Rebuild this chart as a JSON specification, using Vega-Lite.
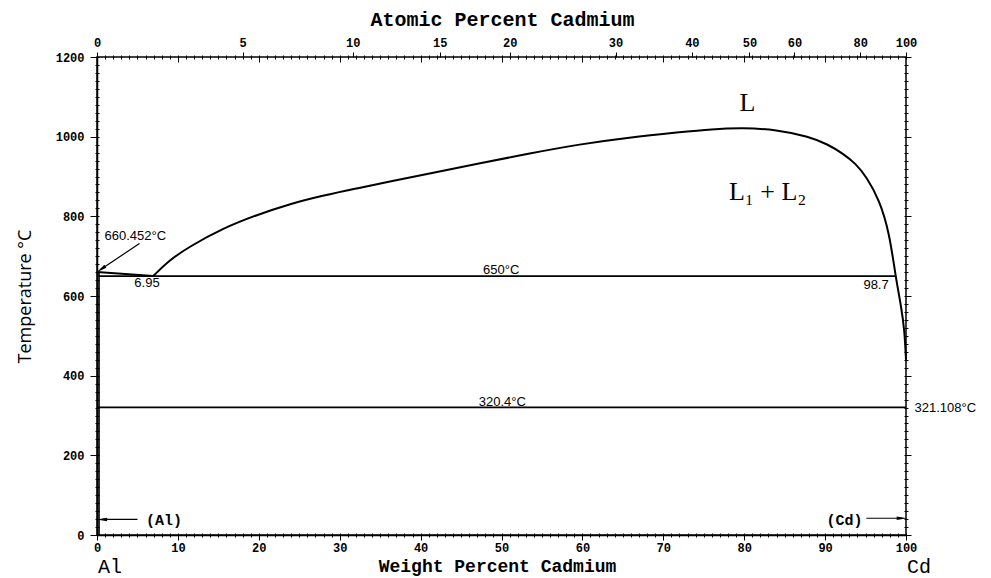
{
"$schema": "https://vega.github.io/schema/vega-lite/v6.json",
"width": 809, "height": 478,
"autosize": {"type": "none"},
"padding": {"left": 97, "top": 57, "right": 85, "bottom": 43},
"background": "white",
"config": {
  "view": {"stroke": "black", "strokeWidth": 1.5},
  "axis": {"domainColor": "black", "domainWidth": 1.5, "tickColor": "black", "tickWidth": 1, "labelColor": "black", "titleColor": "black", "grid": false, "labelFont": "Liberation Mono", "labelFontWeight": "bold", "labelFontSize": 12, "titleFont": "Liberation Mono", "titleFontWeight": "bold", "titleFontSize": 20, "labelFlush": false, "labelOverlap": false, "format": "d"}
},
"datasets": {
  "lines": [
    {"x": 0.2, "x2": 98.7, "y": 650, "y2": 650},
    {"x": 0, "x2": 100, "y": 320.4, "y2": 320.4},
    {"x": 0.25, "x2": 0.25, "y": 0, "y2": 660.452}
  ],
  "arrows": [
    {"name": "a660", "x": 5.25, "y": 732, "x2": 0.5, "y2": 667},
    {"name": "al", "x": 5.0, "y": 39, "x2": 0.6, "y2": 39},
    {"name": "cd", "x": 95.1, "y": 42, "x2": 99.5, "y2": 42}
  ],
  "curves": [
    {"curve": "liq", "ord": 1, "x": 0, "y": 660.452},
    {"curve": "liq", "ord": 2, "x": 6.95, "y": 650},
    {"curve": "gap", "ord": 1, "x": 6.95, "y": 650},
    {"curve": "gap", "ord": 2, "x": 9, "y": 691},
    {"curve": "gap", "ord": 3, "x": 11.43, "y": 724},
    {"curve": "gap", "ord": 4, "x": 15.55, "y": 770},
    {"curve": "gap", "ord": 5, "x": 19.68, "y": 803},
    {"curve": "gap", "ord": 6, "x": 23.79, "y": 831},
    {"curve": "gap", "ord": 7, "x": 27.91, "y": 852},
    {"curve": "gap", "ord": 8, "x": 32.04, "y": 870},
    {"curve": "gap", "ord": 9, "x": 36.16, "y": 887},
    {"curve": "gap", "ord": 10, "x": 41.5, "y": 909},
    {"curve": "gap", "ord": 11, "x": 47.28, "y": 933},
    {"curve": "gap", "ord": 12, "x": 53.5, "y": 958},
    {"curve": "gap", "ord": 13, "x": 59.64, "y": 981},
    {"curve": "gap", "ord": 14, "x": 65.8, "y": 998},
    {"curve": "gap", "ord": 15, "x": 71.99, "y": 1011},
    {"curve": "gap", "ord": 16, "x": 76, "y": 1019},
    {"curve": "gap", "ord": 17, "x": 79.83, "y": 1022},
    {"curve": "gap", "ord": 18, "x": 83.96, "y": 1018},
    {"curve": "gap", "ord": 19, "x": 88.07, "y": 1000},
    {"curve": "gap", "ord": 20, "x": 90.3, "y": 981},
    {"curve": "gap", "ord": 21, "x": 92.19, "y": 958},
    {"curve": "gap", "ord": 22, "x": 93.8, "y": 932},
    {"curve": "gap", "ord": 23, "x": 95.08, "y": 900},
    {"curve": "gap", "ord": 24, "x": 96.72, "y": 841},
    {"curve": "gap", "ord": 25, "x": 97.96, "y": 757},
    {"curve": "gap", "ord": 26, "x": 98.7, "y": 650},
    {"curve": "gap", "ord": 27, "x": 99.41, "y": 573},
    {"curve": "gap", "ord": 28, "x": 99.81, "y": 515},
    {"curve": "gap", "ord": 29, "x": 100, "y": 440}
  ],
  "bigtext": [
    {"x": 80.4, "y": 1064, "text": "L"},
    {"x": 82.9, "y": 842, "text": "L₁ + L₂"}
  ],
  "notes": [
    {"x": 0.93, "y": 741, "text": "660.452°C", "align": "left"},
    {"x": 6.18, "y": 622, "text": "6.95", "align": "center"},
    {"x": 49.96, "y": 655, "text": "650°C", "align": "center"},
    {"x": 50.1, "y": 325, "text": "320.4°C", "align": "center"},
    {"x": 96.3, "y": 617, "text": "98.7", "align": "center"},
    {"x": 101.05, "y": 310, "text": "321.108°C", "align": "left"}
  ],
  "phases": [
    {"x": 8.28, "y": 25, "text": "(Al)"},
    {"x": 92.4, "y": 25, "text": "(Cd)"}
  ],
  "elements": [
    {"x": 1.6, "y": -95, "text": "Al"},
    {"x": 101.6, "y": -95, "text": "Cd"}
  ]
},
"resolve": {"axis": {"x": "independent", "y": "independent"}},
"layer": [
  {
    "data": {"name": "lines"},
    "mark": {"type": "rule", "color": "black", "strokeWidth": 1.6},
    "encoding": {
      "x": {"field": "x", "type": "quantitative", "scale": {"domain": [0, 100], "nice": false, "zero": false},
        "axis": {"orient": "bottom", "values": [0,10,20,30,40,50,60,70,80,90,100], "tickSize": 5, "labelPadding": 2, "title": "Weight Percent Cadmium", "titleFontSize": 18, "titleX": 400, "titleY": 31, "titleBaseline": "middle", "titleAlign": "center"}},
      "x2": {"field": "x2"},
      "y": {"field": "y", "type": "quantitative", "scale": {"domain": [0, 1200], "nice": false, "zero": false},
        "axis": {"orient": "left", "values": [0,200,400,600,800,1000,1200], "tickSize": 7, "labelPadding": 6, "title": "Temperature °C", "titleX": -72, "titleY": 239, "titleAngle": 270, "titleBaseline": "middle", "titleAlign": "center", "titleFont": "Open Sans", "titleFontWeight": "normal", "titleFontSize": 18}},
      "y2": {"field": "y2"}
    }
  },
  {
    "data": {"name": "arrows"},
    "mark": {"type": "rule", "color": "black", "strokeWidth": 1.2},
    "encoding": {
      "x": {"field": "x", "type": "quantitative", "scale": {"domain": [0, 100], "nice": false, "zero": false}, "axis": null},
      "x2": {"field": "x2"},
      "y": {"field": "y", "type": "quantitative", "scale": {"domain": [0, 1200], "nice": false, "zero": false}, "axis": null},
      "y2": {"field": "y2"}
    }
  },
  {
    "data": {"name": "arrows"},
    "transform": [{"filter": "datum.name == 'a660'"}],
    "mark": {"type": "point", "shape": "M0,-1L0.35,1L-0.35,1Z", "filled": true, "color": "black", "opacity": 1, "size": 110, "angle": 235.7},
    "encoding": {
      "x": {"field": "x2", "type": "quantitative", "scale": {"domain": [0, 100], "nice": false, "zero": false}, "axis": null},
      "y": {"field": "y2", "type": "quantitative", "scale": {"domain": [0, 1200], "nice": false, "zero": false}, "axis": null}
    }
  },
  {
    "data": {"name": "arrows"},
    "transform": [{"filter": "datum.name == 'al'"}],
    "mark": {"type": "point", "shape": "M0,-1L0.35,1L-0.35,1Z", "filled": true, "color": "black", "opacity": 1, "size": 110, "angle": 270},
    "encoding": {
      "x": {"field": "x2", "type": "quantitative", "scale": {"domain": [0, 100], "nice": false, "zero": false}, "axis": null},
      "y": {"field": "y2", "type": "quantitative", "scale": {"domain": [0, 1200], "nice": false, "zero": false}, "axis": null}
    }
  },
  {
    "data": {"name": "arrows"},
    "transform": [{"filter": "datum.name == 'cd'"}],
    "mark": {"type": "point", "shape": "M0,-1L0.35,1L-0.35,1Z", "filled": true, "color": "black", "opacity": 1, "size": 110, "angle": 90},
    "encoding": {
      "x": {"field": "x2", "type": "quantitative", "scale": {"domain": [0, 100], "nice": false, "zero": false}, "axis": null},
      "y": {"field": "y2", "type": "quantitative", "scale": {"domain": [0, 1200], "nice": false, "zero": false}, "axis": null}
    }
  },
  {
    "data": {"name": "curves"},
    "mark": {"type": "line", "color": "black", "strokeWidth": 2, "interpolate": "basis"},
    "encoding": {
      "x": {"field": "x", "type": "quantitative", "scale": {"domain": [0, 100], "nice": false, "zero": false}, "axis": null},
      "y": {"field": "y", "type": "quantitative", "scale": {"domain": [0, 1200], "nice": false, "zero": false}, "axis": null},
      "detail": {"field": "curve"},
      "order": {"field": "ord", "type": "quantitative"}
    }
  },
  {
    "data": {"name": "bigtext"},
    "mark": {"type": "text", "font": "Liberation Serif", "fontSize": 26, "align": "center", "baseline": "alphabetic", "color": "black"},
    "encoding": {
      "x": {"field": "x", "type": "quantitative", "scale": {"domain": [0, 100], "nice": false, "zero": false}, "axis": null},
      "y": {"field": "y", "type": "quantitative", "scale": {"domain": [0, 1200], "nice": false, "zero": false}, "axis": null},
      "text": {"field": "text"}
    }
  },
  {
    "data": {"name": "notes"},
    "transform": [{"filter": "datum.align == 'left'"}],
    "mark": {"type": "text", "font": "Liberation Sans", "fontSize": 13, "align": "left", "baseline": "alphabetic", "color": "black"},
    "encoding": {
      "x": {"field": "x", "type": "quantitative", "scale": {"domain": [0, 100], "nice": false, "zero": false}, "axis": null},
      "y": {"field": "y", "type": "quantitative", "scale": {"domain": [0, 1200], "nice": false, "zero": false}, "axis": null},
      "text": {"field": "text"}
    }
  },
  {
    "data": {"name": "notes"},
    "transform": [{"filter": "datum.align == 'center'"}],
    "mark": {"type": "text", "font": "Liberation Sans", "fontSize": 13, "align": "center", "baseline": "alphabetic", "color": "black"},
    "encoding": {
      "x": {"field": "x", "type": "quantitative", "scale": {"domain": [0, 100], "nice": false, "zero": false}, "axis": null},
      "y": {"field": "y", "type": "quantitative", "scale": {"domain": [0, 1200], "nice": false, "zero": false}, "axis": null},
      "text": {"field": "text"}
    }
  },
  {
    "data": {"name": "phases"},
    "mark": {"type": "text", "font": "Liberation Mono", "fontWeight": "bold", "fontSize": 15, "align": "center", "baseline": "alphabetic", "color": "black"},
    "encoding": {
      "x": {"field": "x", "type": "quantitative", "scale": {"domain": [0, 100], "nice": false, "zero": false}, "axis": null},
      "y": {"field": "y", "type": "quantitative", "scale": {"domain": [0, 1200], "nice": false, "zero": false}, "axis": null},
      "text": {"field": "text"}
    }
  },
  {
    "data": {"name": "elements"},
    "mark": {"type": "text", "font": "Liberation Mono", "fontSize": 20, "align": "center", "baseline": "alphabetic", "color": "black"},
    "encoding": {
      "x": {"field": "x", "type": "quantitative", "scale": {"domain": [0, 100], "nice": false, "zero": false}, "axis": null},
      "y": {"field": "y", "type": "quantitative", "scale": {"domain": [0, 1200], "nice": false, "zero": false}, "axis": null},
      "text": {"field": "text"}
    }
  },
  {
    "data": {"name": "lines"},
    "mark": {"type": "point", "opacity": 0},
    "encoding": {
      "x": {"field": "x", "type": "quantitative", "scale": {"domain": [0, 100], "nice": false, "zero": false},
        "axis": {"orient": "bottom", "values": [0,1,2,3,4,5,6,7,8,9,10,11,12,13,14,15,16,17,18,19,20,21,22,23,24,25,26,27,28,29,30,31,32,33,34,35,36,37,38,39,40,41,42,43,44,45,46,47,48,49,50,51,52,53,54,55,56,57,58,59,60,61,62,63,64,65,66,67,68,69,70,71,72,73,74,75,76,77,78,79,80,81,82,83,84,85,86,87,88,89,90,91,92,93,94,95,96,97,98,99,100], "tickSize": 4, "offset": -2, "domain": false, "labels": false, "title": null}},
      "y": {"field": "y", "type": "quantitative", "scale": {"domain": [0, 1200], "nice": false, "zero": false},
        "axis": {"orient": "left", "values": [0,20,40,60,80,100,120,140,160,180,200,220,240,260,280,300,320,340,360,380,400,420,440,460,480,500,520,540,560,580,600,620,640,660,680,700,720,740,760,780,800,820,840,860,880,900,920,940,960,980,1000,1020,1040,1060,1080,1100,1120,1140,1160,1180,1200], "tickSize": 4, "offset": -2, "domain": false, "labels": false, "title": null}}
    }
  },
  {
    "data": {"name": "lines"},
    "mark": {"type": "point", "opacity": 0},
    "encoding": {
      "x": {"field": "x", "type": "quantitative", "scale": {"domain": [0, 100], "nice": false, "zero": false},
        "axis": {"orient": "top", "values": [0,17.99,31.6,42.37,51.02,64.1,73.53,80.64,86.21,94.34,100], "labelExpr": "format(round(100*(datum.value/112.41)/((datum.value/112.41)+((100-datum.value)/26.98))), 'd')", "tickSize": 5, "labelPadding": 3, "domain": false, "title": "Atomic Percent Cadmium", "titleX": 405, "titleY": -38, "titleBaseline": "middle", "titleAlign": "center"}},
      "y": {"field": "y", "type": "quantitative", "scale": {"domain": [0, 1200], "nice": false, "zero": false},
        "axis": {"orient": "right", "values": [0,200,400,600,800,1000,1200], "tickSize": 5, "domain": false, "labels": false, "title": null}}
    }
  },
  {
    "data": {"name": "lines"},
    "mark": {"type": "point", "opacity": 0},
    "encoding": {
      "x": {"field": "x", "type": "quantitative", "scale": {"domain": [0, 100], "nice": false, "zero": false},
        "axis": {"orient": "top", "values": [0,1,2,3,4,5,6,7,8,9,10,11,12,13,14,15,16,17,18,19,20,21,22,23,24,25,26,27,28,29,30,31,32,33,34,35,36,37,38,39,40,41,42,43,44,45,46,47,48,49,50,51,52,53,54,55,56,57,58,59,60,61,62,63,64,65,66,67,68,69,70,71,72,73,74,75,76,77,78,79,80,81,82,83,84,85,86,87,88,89,90,91,92,93,94,95,96,97,98,99,100], "tickSize": 4, "offset": -2, "domain": false, "labels": false, "title": null}},
      "y": {"field": "y", "type": "quantitative", "scale": {"domain": [0, 1200], "nice": false, "zero": false},
        "axis": {"orient": "right", "values": [0,20,40,60,80,100,120,140,160,180,200,220,240,260,280,300,320,340,360,380,400,420,440,460,480,500,520,540,560,580,600,620,640,660,680,700,720,740,760,780,800,820,840,860,880,900,920,940,960,980,1000,1020,1040,1060,1080,1100,1120,1140,1160,1180,1200], "tickSize": 4, "offset": -2, "domain": false, "labels": false, "title": null}}
    }
  },
  {
    "data": {"name": "lines"},
    "mark": {"type": "point", "opacity": 0},
    "encoding": {
      "x": {"field": "x", "type": "quantitative", "scale": {"domain": [0, 100], "nice": false, "zero": false},
        "axis": {"orient": "top", "values": [10,20,30,40,50,60,70,80,90], "tickSize": 5, "offset": -5, "domain": false, "labels": false, "title": null}},
      "y": {"field": "y", "type": "quantitative", "scale": {"domain": [0, 1200], "nice": false, "zero": false}, "axis": null}
    }
  }
]
}
